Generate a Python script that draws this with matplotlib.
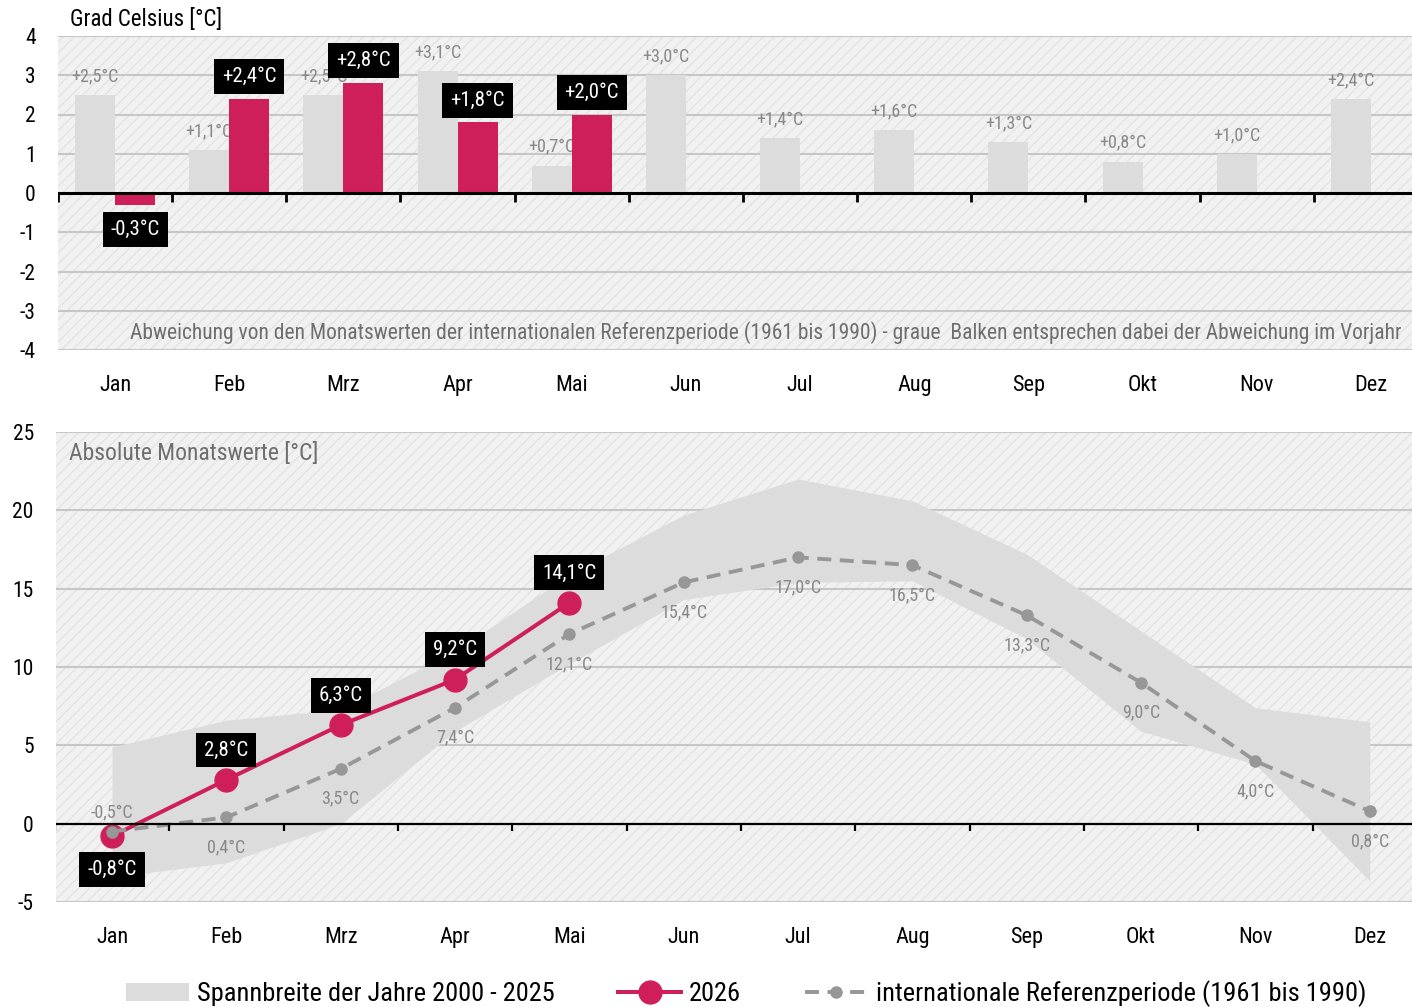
import numpy as np
import matplotlib
matplotlib.use('Agg')
import matplotlib.pyplot as plt
from matplotlib.patches import Rectangle, Patch
from matplotlib.lines import Line2D

plt.rcParams['font.family'] = ['Liberation Sans Narrow', 'DejaVu Sans Condensed', 'Roboto Condensed',
                               'Open Sans Condensed', 'DejaVu Sans']
plt.rcParams['axes.unicode_minus'] = False
plt.rcParams['hatch.linewidth'] = 0.8

# Data
months = ['Jan', 'Feb', 'Mrz', 'Apr', 'Mai', 'Jun', 'Jul', 'Aug', 'Sep', 'Okt', 'Nov', 'Dez']
dev_2026 = [-0.3, 2.4, 2.8, 1.8, 2.0]
dev_prev = [2.5, 1.1, 2.5, 3.1, 0.7, 3.0, 1.4, 1.6, 1.3, 0.8, 1.0, 2.4]
abs_2026 = [-0.8, 2.8, 6.3, 9.2, 14.1]
ref_1961_1990 = [-0.5, 0.4, 3.5, 7.4, 12.1, 15.4, 17.0, 16.5, 13.3, 9.0, 4.0, 0.8]
band_low = [-3.4, -2.5, 0.0, 5.9, 10.2, 14.3, 15.4, 15.5, 11.8, 5.9, 3.8, -3.65]
band_high = [4.9, 6.6, 7.3, 11.0, 15.9, 19.7, 22.0, 20.6, 17.2, 12.3, 7.4, 6.5]

RED = '#cf1f5b'
BARGRAY = '#dcdcdc'
GRID = '#c6c6c6'
LABELGRAY = '#888888'


def fmt(v, sign=False):
    s = f'{v:+.1f}' if sign else f'{v:.1f}'
    return s.replace('.', ',') + '°C'


def background(ax):
    ax.add_patch(Rectangle((0, 0), 1, 1, transform=ax.transAxes, facecolor='#f1f1f1',
                           edgecolor='#e0e0e0', hatch='///', lw=0, zorder=0))
    for s in ax.spines.values():
        s.set_visible(False)


W, H = 1412, 1007
fig = plt.figure(figsize=(W / 100, H / 100), dpi=100)
x = np.arange(12)

# ---- top: deviations ----
ax1 = fig.add_axes([58 / W, 1 - 350 / H, (W - 58) / W, 314 / H])
background(ax1)
ax1.set_xlim(-0.5, 11.36)
ax1.set_ylim(-4, 4)
for y in range(-4, 5):
    if y != 0:
        ax1.axhline(y, color=GRID, lw=1.5, zorder=1)
ax1.axhline(0, color='black', lw=2.2, zorder=5)
ax1.vlines(np.arange(-0.5, 11, 1), -0.23, 0, color='black', lw=2, zorder=5)

bw = 0.35
ax1.bar(x - bw / 2, dev_prev, width=bw, color=BARGRAY, zorder=2)
ax1.bar(x[:len(dev_2026)] + bw / 2, dev_2026, width=bw, color=RED, zorder=3)

for xi, v in zip(x, dev_prev):
    ax1.text(xi - bw / 2, v + 0.48, fmt(v, True), ha='center', va='center',
             fontsize=13, color=LABELGRAY, zorder=2.5)
for xi, v in zip(x, dev_2026):
    off = 16 if v >= 0 else -18
    ax1.annotate(fmt(v, True), (xi + bw / 2, v), xytext=(0, off), textcoords='offset points',
                 ha='center', va='center', fontsize=15, color='white', zorder=6,
                 bbox=dict(boxstyle='square,pad=0.38', fc='black', ec='none'))

ax1.set_yticks(range(-4, 5))
ax1.set_xticks(x)
ax1.set_xticklabels(months)
ax1.tick_params(axis='y', length=0, pad=16, labelsize=15.5)
ax1.tick_params(axis='x', length=0, pad=18, labelsize=16)
ax1.text(0.9926, 0.057,
         'Abweichung von den Monatswerten der internationalen Referenzperiode (1961 bis 1990) - '
         'graue  Balken entsprechen dabei der Abweichung im Vorjahr',
         transform=ax1.transAxes, ha='right', va='center', fontsize=15.5, color='#6e6e6e', zorder=6)
fig.text(70 / W, 1 - 19 / H, 'Grad Celsius [°C]', fontsize=16.5, va='center')

# ---- bottom: absolute values ----
ax2 = fig.add_axes([56 / W, 1 - 902 / H, (W - 56) / W, 470 / H])
background(ax2)
ax2.set_xlim(-0.49, 11.37)
ax2.set_ylim(-5, 25)
for y in range(-5, 26, 5):
    if y != 0:
        ax2.axhline(y, color=GRID, lw=1.5, zorder=1)
ax2.axhline(0, color='black', lw=1.6, zorder=5)
ax2.vlines(np.arange(-0.5, 11, 1), -0.45, 0, color='black', lw=1.6, zorder=5)

ax2.fill_between(x, band_low, band_high, color=BARGRAY, lw=0, zorder=2)
ax2.plot(x[:len(abs_2026)], abs_2026, color=RED, lw=2.9, marker='o', ms=16.5, zorder=3)
ax2.plot(x, ref_1961_1990, color='#979797', lw=2.8, dashes=(3.6, 2.2), marker='o', ms=8, zorder=4)

for xi, v in zip(x, abs_2026):
    off = 21.5 if xi > 0 else -24
    ax2.annotate(fmt(v), (xi, v), xytext=(0, off), textcoords='offset points',
                 ha='center', va='center', fontsize=15, color='white', zorder=6,
                 bbox=dict(boxstyle='square,pad=0.38', fc='black', ec='none'))
for xi, v in zip(x, ref_1961_1990):
    off = 13.7 if xi == 0 else -21.6
    ax2.annotate(fmt(v), (xi, v), xytext=(0, off), textcoords='offset points',
                 ha='center', va='center', fontsize=13, color=LABELGRAY, zorder=4)

ax2.set_yticks(range(-5, 26, 5))
ax2.set_xticks(x)
ax2.set_xticklabels(months)
ax2.tick_params(axis='y', length=0, pad=16, labelsize=15.5)
ax2.tick_params(axis='x', length=0, pad=18, labelsize=16)
ax2.text((69 - 56) / 1356, (902 - 453) / 470, 'Absolute Monatswerte [°C]', transform=ax2.transAxes,
         ha='left', va='center', fontsize=17, color='#6e6e6e', zorder=6)

handles = [Patch(facecolor=BARGRAY, edgecolor='none'),
           Line2D([], [], color=RED, lw=2.9, marker='o', ms=16.5),
           Line2D([], [], color='#979797', lw=2.8, dashes=(3.6, 2.2), marker='o', ms=8)]
labels = ['Spannbreite der Jahre 2000 - 2025', '2026', 'internationale Referenzperiode (1961 bis 1990)']
fig.legend(handles, labels, loc='center', bbox_to_anchor=(746 / W, 1 - 994 / H), ncol=3,
           frameon=False, fontsize=19, handlelength=2.4, handletextpad=0.3, columnspacing=2.4)

fig.savefig('out.png', dpi=100)
